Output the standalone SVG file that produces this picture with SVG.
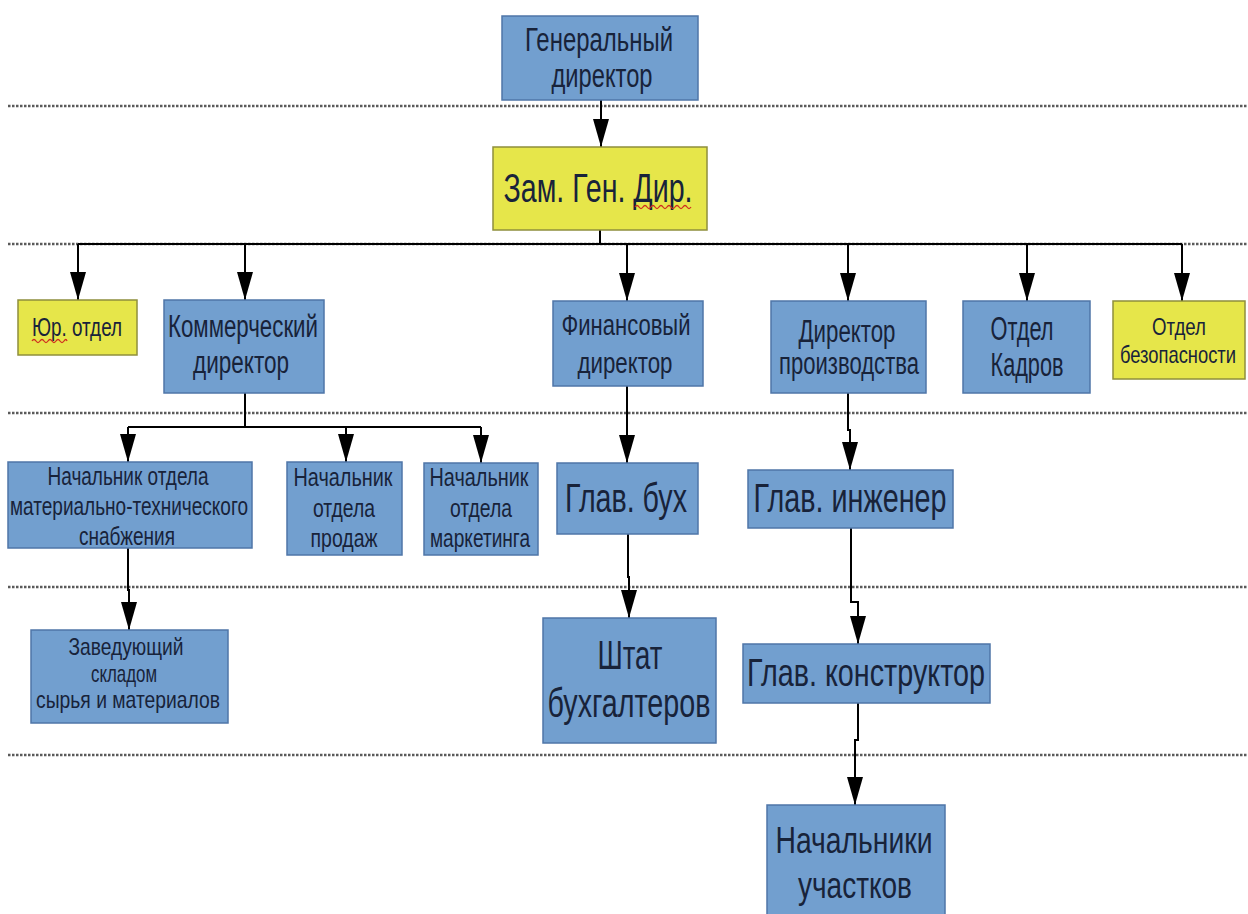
<svg xmlns="http://www.w3.org/2000/svg" width="1248" height="914" viewBox="0 0 1248 914">
<style>
.bg{fill:#ffffff}
.sep{stroke:#5a5a5a;stroke-width:2.5;stroke-dasharray:2.5 1.5;fill:none}
.b{fill:#729fcf;stroke:#4f76a8;stroke-width:1.5}
.y{fill:#e6e64a;stroke:#8f8f3c;stroke-width:1.5}
text{font-family:"Liberation Sans",Arial,sans-serif;fill:#18233a;text-anchor:middle}
.con{stroke:#000;stroke-width:2;fill:none}
.arr{stroke:#000;stroke-width:2;fill:none;marker-end:url(#ah)}
.wavy{stroke:#d03020;stroke-width:1.3;fill:none}
</style>
<defs>
<marker id="ah" viewBox="0 0 28 16" refX="28" refY="8" markerWidth="28" markerHeight="16" markerUnits="userSpaceOnUse" orient="auto">
<path d="M0,0 L28,8 L0,16 z" fill="#000"/>
</marker>
</defs>
<rect class="bg" x="0" y="0" width="1248" height="914"/>
<g id="separators">
<line class="sep" x1="8" y1="106" x2="1248" y2="106"/>
<line class="sep" x1="8" y1="244" x2="1248" y2="244"/>
<line class="sep" x1="8" y1="413" x2="1248" y2="413"/>
<line class="sep" x1="8" y1="587" x2="1248" y2="587"/>
<line class="sep" x1="8" y1="755" x2="1248" y2="755"/>
</g>
<g id="connectors">
<path class="arr" d="M601,100 V147"/>
<path class="con" d="M600,230 V244 M78,244 H1182"/>
<path class="arr" d="M78,244 V300"/>
<path class="arr" d="M245,244 V300"/>
<path class="arr" d="M627,244 V301"/>
<path class="arr" d="M848,244 V301"/>
<path class="arr" d="M1027,244 V301"/>
<path class="arr" d="M1182,244 V301"/>
<path class="con" d="M245,393 V427 M128,427 H481"/>
<path class="arr" d="M128,427 V462"/>
<path class="arr" d="M346,427 V462"/>
<path class="arr" d="M481,427 V463"/>
<path class="arr" d="M627,386 V463"/>
<path class="arr" d="M628,534 V577 H629 V618"/>
<path class="arr" d="M848,393 V430 H850 V470"/>
<path class="arr" d="M851,528 V602 H858 V644"/>
<path class="arr" d="M858,703 V740 H855 V805"/>
<path class="arr" d="M128,548 V590 H129 V630"/>
</g>
<g id="gen-director">
<rect class="b" x="502" y="16" width="196" height="84"/>
<text x="599" y="51" font-size="33" textLength="148" lengthAdjust="spacingAndGlyphs">Генеральный</text>
<text x="602" y="87" font-size="33" textLength="101" lengthAdjust="spacingAndGlyphs">директор</text>
</g>
<g id="deputy">
<rect class="y" x="493" y="147" width="214" height="83"/>
<text x="598" y="202" font-size="41" textLength="189" lengthAdjust="spacingAndGlyphs">Зам. Ген. Дир.</text>
<path class="wavy" d="M635,207 q2,-3 4,0 t4,0 t4,0 t4,0 t4,0 t4,0 t4,0 t4,0 t4,0 t4,0 t4,0 t4,0 t4,0 t4,0"/>
</g>
<g id="legal">
<rect class="y" x="18" y="300" width="119" height="55"/>
<text x="77" y="336" font-size="26" textLength="90" lengthAdjust="spacingAndGlyphs">Юр. отдел</text>
<path class="wavy" d="M32,341 q2,-3 4,0 t4,0 t4,0 t4,0 t4,0 t4,0 t4,0 t4,0 t3,0"/>
</g>
<g id="commercial">
<rect class="b" x="164" y="300" width="160" height="93"/>
<text x="243" y="337" font-size="31" textLength="150" lengthAdjust="spacingAndGlyphs">Коммерческий</text>
<text x="241" y="373" font-size="31" textLength="96" lengthAdjust="spacingAndGlyphs">директор</text>
</g>
<g id="finance">
<rect class="b" x="553" y="301" width="150" height="85"/>
<text x="626" y="335" font-size="30" textLength="129" lengthAdjust="spacingAndGlyphs">Финансовый</text>
<text x="625" y="373" font-size="30" textLength="95" lengthAdjust="spacingAndGlyphs">директор</text>
</g>
<g id="production">
<rect class="b" x="771" y="301" width="155" height="92"/>
<text x="847" y="342" font-size="31" textLength="97" lengthAdjust="spacingAndGlyphs">Директор</text>
<text x="849" y="374" font-size="31" textLength="140" lengthAdjust="spacingAndGlyphs">производства</text>
</g>
<g id="hr">
<rect class="b" x="963" y="301" width="127" height="92"/>
<text x="1022" y="340" font-size="33" textLength="63" lengthAdjust="spacingAndGlyphs">Отдел</text>
<text x="1027" y="376" font-size="33" textLength="73" lengthAdjust="spacingAndGlyphs">Кадров</text>
</g>
<g id="security">
<rect class="y" x="1113" y="301" width="132" height="78"/>
<text x="1179" y="335" font-size="24" textLength="54" lengthAdjust="spacingAndGlyphs">Отдел</text>
<text x="1178" y="363" font-size="24" textLength="116" lengthAdjust="spacingAndGlyphs">безопасности</text>
</g>
<g id="supply">
<rect class="b" x="8" y="462" width="244" height="86"/>
<text x="128" y="485" font-size="26" textLength="161" lengthAdjust="spacingAndGlyphs">Начальник отдела</text>
<text x="129" y="515" font-size="26" textLength="238" lengthAdjust="spacingAndGlyphs">материально-технического</text>
<text x="127" y="545" font-size="26" textLength="96" lengthAdjust="spacingAndGlyphs">снабжения</text>
</g>
<g id="sales">
<rect class="b" x="287" y="462" width="115" height="93"/>
<text x="343" y="486" font-size="26" textLength="99" lengthAdjust="spacingAndGlyphs">Начальник</text>
<text x="344" y="517" font-size="26" textLength="62" lengthAdjust="spacingAndGlyphs">отдела</text>
<text x="344" y="547" font-size="26" textLength="67" lengthAdjust="spacingAndGlyphs">продаж</text>
</g>
<g id="marketing">
<rect class="b" x="424" y="463" width="114" height="92"/>
<text x="479" y="486" font-size="26" textLength="99" lengthAdjust="spacingAndGlyphs">Начальник</text>
<text x="481" y="517" font-size="26" textLength="62" lengthAdjust="spacingAndGlyphs">отдела</text>
<text x="480" y="547" font-size="26" textLength="100" lengthAdjust="spacingAndGlyphs">маркетинга</text>
</g>
<g id="chief-accountant">
<rect class="b" x="557" y="463" width="141" height="71"/>
<text x="626" y="512" font-size="41" textLength="122" lengthAdjust="spacingAndGlyphs">Глав. бух</text>
</g>
<g id="chief-engineer">
<rect class="b" x="748" y="470" width="205" height="58"/>
<text x="850" y="512" font-size="41" textLength="193" lengthAdjust="spacingAndGlyphs">Глав. инженер</text>
</g>
<g id="accountants">
<rect class="b" x="543" y="618" width="173" height="125"/>
<text x="630" y="669" font-size="40" textLength="65" lengthAdjust="spacingAndGlyphs">Штат</text>
<text x="629" y="717" font-size="40" textLength="163" lengthAdjust="spacingAndGlyphs">бухгалтеров</text>
</g>
<g id="chief-designer">
<rect class="b" x="743" y="644" width="247" height="59"/>
<text x="866" y="686" font-size="39" textLength="238" lengthAdjust="spacingAndGlyphs">Глав. конструктор</text>
</g>
<g id="warehouse">
<rect class="b" x="31" y="630" width="197" height="93"/>
<text x="126" y="655" font-size="24" textLength="115" lengthAdjust="spacingAndGlyphs">Заведующий</text>
<text x="124" y="682" font-size="24" textLength="66" lengthAdjust="spacingAndGlyphs">складом</text>
<text x="128" y="708" font-size="24" textLength="184" lengthAdjust="spacingAndGlyphs">сырья и материалов</text>
</g>
<g id="site-heads">
<rect class="b" x="767" y="805" width="178" height="120"/>
<text x="854" y="853" font-size="37" textLength="157" lengthAdjust="spacingAndGlyphs">Начальники</text>
<text x="855" y="898" font-size="37" textLength="114" lengthAdjust="spacingAndGlyphs">участков</text>
</g>
</svg>
